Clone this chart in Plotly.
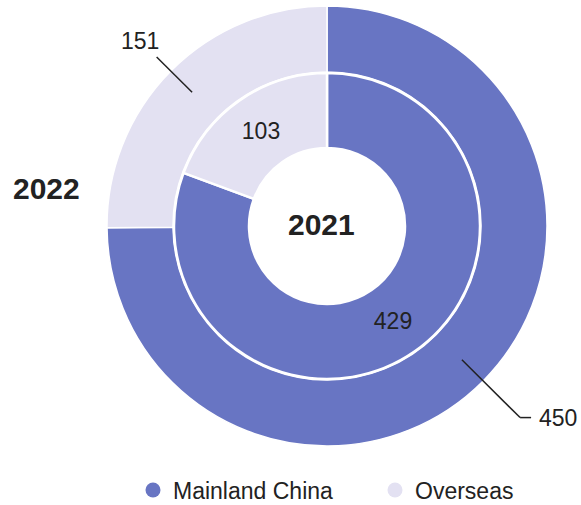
import math
import plotly.graph_objects as go

categories = ["Mainland China", "Overseas"]
values_2022 = [450, 151]
values_2021 = [429, 103]
colors = ["#6875C3", "#E3E1F2"]
year_outer = "2022"
year_inner = "2021"

W, H = 581, 505
cx, cy = 327, 226
R_out, R_mid, R_in = 220, 153, 78
FONT = "Liberation Sans, Arial, Helvetica"
TXT = "#222222"

def px2paper(x, y):
    return x / W, 1 - y / H

def dom(r):
    x0, y0 = px2paper(cx - r, cy + r)
    x1, y1 = px2paper(cx + r, cy - r)
    return dict(x=[x0, x1], y=[y0, y1])

fig = go.Figure()
fig.add_trace(go.Pie(
    labels=categories, values=values_2022, sort=False, direction="clockwise", rotation=0,
    hole=(R_mid + 1) / R_out, domain=dom(R_out),
    marker=dict(colors=colors, line=dict(color="white", width=1.5)),
    textinfo="none", hoverinfo="label+value", showlegend=False,
))
fig.add_trace(go.Pie(
    labels=categories, values=values_2021, sort=False, direction="clockwise", rotation=0,
    hole=R_in / R_mid, domain=dom(R_mid),
    marker=dict(colors=colors, line=dict(color="white", width=2.5)),
    textinfo="value", textposition="inside", insidetextorientation="horizontal",
    textfont=dict(family=FONT, size=23, color=TXT),
    hoverinfo="label+value", showlegend=False,
))

# legend with circular markers
for name, c in zip(categories, colors):
    fig.add_trace(go.Scatter(x=[None], y=[None], mode="markers", name=name,
                             marker=dict(color=c, size=15, symbol="circle")))

# outer ring labels with leader lines, placed from slice mid-angles
total = sum(values_2022)
cum = 0
shapes, annotations = [], []
for i, v in enumerate(values_2022):
    mid = (cum + v / 2) / total * 2 * math.pi
    cum += v
    s, c = math.sin(mid), math.cos(mid)
    def pt(r):
        return cx + r * s, cy - r * c
    x0, y0 = pt(190)
    if s < 0:
        x1, y1 = pt(240)
        tx, ty = pt(263)
        shapes.append(dict(type="line", xref="paper", yref="paper",
                           x0=px2paper(x0, y0)[0], y0=px2paper(x0, y0)[1],
                           x1=px2paper(x1, y1)[0], y1=px2paper(x1, y1)[1],
                           line=dict(color=TXT, width=1.5)))
        ax, ay = px2paper(tx, ty)
        annotations.append(dict(x=ax, y=ay, xref="paper", yref="paper", text=str(v),
                                showarrow=False, xanchor="center", yanchor="middle",
                                font=dict(family=FONT, size=23, color=TXT)))
    else:
        x1, y1 = pt(272)
        x2 = x1 + 11
        for (a, b, cc, d) in [(x0, y0, x1, y1), (x1, y1, x2, y1)]:
            p0 = px2paper(a, b); p1 = px2paper(cc, d)
            shapes.append(dict(type="line", xref="paper", yref="paper",
                               x0=p0[0], y0=p0[1], x1=p1[0], y1=p1[1],
                               line=dict(color=TXT, width=1.5)))
        ax, ay = px2paper(x2 + 6, y1)
        annotations.append(dict(x=ax, y=ay, xref="paper", yref="paper", text=str(v),
                                showarrow=False, xanchor="left", yanchor="middle",
                                font=dict(family=FONT, size=23, color=TXT)))

bx, by = px2paper(46, 188)
annotations.append(dict(x=bx, y=by, xref="paper", yref="paper", text="<b>%s</b>" % year_outer,
                        showarrow=False, xanchor="center", yanchor="middle",
                        font=dict(family=FONT, size=30, color=TXT)))
ix, iy = px2paper(cx - 6, cy - 1)
annotations.append(dict(x=ix, y=iy, xref="paper", yref="paper", text="<b>%s</b>" % year_inner,
                        showarrow=False, xanchor="center", yanchor="middle",
                        font=dict(family=FONT, size=30, color=TXT)))

lx, ly = px2paper(133, 490)
fig.update_layout(
    width=W, height=H, margin=dict(l=0, r=0, t=0, b=0, autoexpand=False),
    paper_bgcolor="white", plot_bgcolor="white",
    xaxis=dict(visible=False), yaxis=dict(visible=False),
    shapes=shapes, annotations=annotations,
    legend=dict(orientation="h", x=lx, y=ly, xanchor="left", yanchor="middle",
                entrywidth=197, entrywidthmode="pixels", itemclick=False,
                font=dict(family=FONT, size=23, color=TXT),
                bgcolor="rgba(0,0,0,0)"),
)
fig.write_html("out.html")
